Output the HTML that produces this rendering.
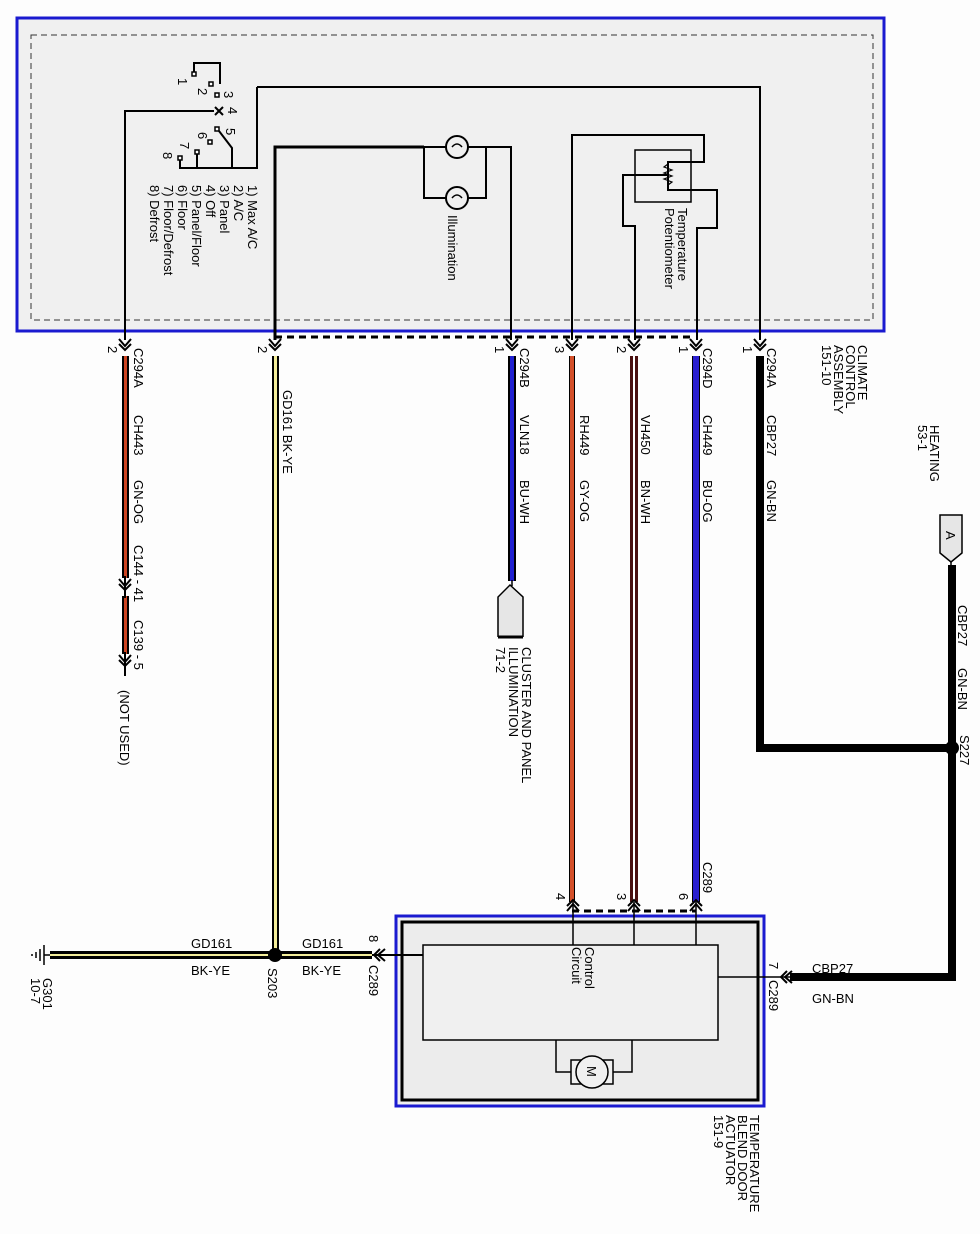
<!DOCTYPE html>
<html><head><meta charset="utf-8"><style>
html,body{margin:0;padding:0;background:#fff}
svg{display:block}
text{font-family:"Liberation Sans",Arial,sans-serif;font-size:13px;fill:#000}
</style></head><body>
<svg width="980" height="1234" viewBox="0 0 980 1234" xmlns="http://www.w3.org/2000/svg">
<defs>
<g id="arr"><path d="M-6,-7 L0,0 L6,-7 M-6,-2 L0,4 L6,-2" fill="none" stroke="#000" stroke-width="2"/></g>
</defs>
<rect x="0" y="0" width="980" height="1234" fill="#fdfdfd"/>
<!-- top assembly -->
<rect x="17" y="18" width="867" height="313" fill="#f0f0f0" stroke="#1a1ad0" stroke-width="3"/>
<rect x="31" y="35" width="842" height="285" fill="none" stroke="#333" stroke-width="1" stroke-dasharray="6,4"/>

<!-- switch -->
<g fill="none" stroke="#000" stroke-width="2">
<path d="M194,74 V63 H220 V84"/>
<path d="M125,340 V111 H214"/>
<path d="M257,87 V168 H180 V160 M197,168 V153 M232,168 V148 L219,131"/>
<path d="M257,87 H760 V340"/>
</g>
<g fill="#fff" stroke="#000" stroke-width="1.5">
<rect x="192" y="72" width="4" height="4"/><rect x="209" y="82" width="4" height="4"/>
<rect x="215" y="93" width="4" height="4"/><rect x="215" y="127" width="4" height="4"/>
<rect x="208" y="140" width="4" height="4"/><rect x="195" y="150" width="4" height="4"/>
<rect x="178" y="156" width="4" height="4"/>
</g>
<path d="M215,107 L223,115 M223,107 L215,115" stroke="#000" stroke-width="2"/>
<g>
<text transform="translate(178,78) rotate(90)">1</text>
<text transform="translate(198,88) rotate(90)">2</text>
<text transform="translate(224,91) rotate(90)">3</text>
<text transform="translate(228,107) rotate(90)">4</text>
<text transform="translate(226,128) rotate(90)">5</text>
<text transform="translate(198,132) rotate(90)">6</text>
<text transform="translate(180,142) rotate(90)">7</text>
<text transform="translate(163,152) rotate(90)">8</text>
</g>
<g font-size="12.5">
<text transform="translate(248,185) rotate(90)">1) Max A/C</text>
<text transform="translate(234,185) rotate(90)">2) A/C</text>
<text transform="translate(220,185) rotate(90)">3) Panel</text>
<text transform="translate(206,185) rotate(90)">4) Off</text>
<text transform="translate(192,185) rotate(90)">5) Panel/Floor</text>
<text transform="translate(178,185) rotate(90)">6) Floor</text>
<text transform="translate(164,185) rotate(90)">7) Floor/Defrost</text>
<text transform="translate(150,185) rotate(90)">8) Defrost</text>
</g>

<!-- illumination -->
<g fill="none" stroke="#000" stroke-width="2">
<path d="M275,340 V147 H424" stroke-width="3"/>
<path d="M424,147 H511 V340 M424,147 V198 H486 V147"/>
</g>
<g fill="#f0f0f0" stroke="#000" stroke-width="2">
<circle cx="457" cy="147" r="11"/><circle cx="457" cy="198" r="11"/>
</g>
<path d="M452,147 q5,-6 10,0 M452,198 q5,-6 10,0" stroke="#000" fill="none" stroke-width="1.5"/>
<text transform="translate(448,215) rotate(90)">Illumination</text>

<!-- potentiometer -->
<g fill="none" stroke="#000" stroke-width="2">
<path d="M572,340 V135 H704 V162 H668 V190 H717 V228 H697 V340"/>
<path d="M668,175 H623 V226 H635 V340"/>
<rect x="635" y="150" width="56" height="52" stroke-width="1.5"/>
</g>
<path d="M668,164 l-4,3 l8,3 l-8,3 l8,3 l-8,3 l8,3 l-4,3" stroke="#000" fill="none" stroke-width="1.2"/>
<text transform="translate(678,208) rotate(90)">Temperature</text>
<text transform="translate(665,208) rotate(90)">Potentiometer</text>

<!-- dashed connector line -->
<path d="M275,337 H695" stroke="#000" stroke-width="3" stroke-dasharray="7,5"/>

<!-- wires down -->
<g>
<rect x="122" y="356" width="7" height="222" fill="#000"/><rect x="124" y="356" width="3" height="222" fill="#cc4422"/>
<rect x="122" y="596" width="7" height="58" fill="#000"/><rect x="124" y="596" width="3" height="58" fill="#cc4422"/>
<rect x="272" y="356" width="7" height="600" fill="#000"/><rect x="274" y="356" width="3" height="600" fill="#f4ee9a"/>
<rect x="508" y="356" width="8" height="225" fill="#000"/><rect x="510" y="356" width="4" height="225" fill="#2020d0"/>
<rect x="569" y="356" width="6" height="546" fill="#000"/><rect x="570" y="356" width="4" height="546" fill="#d4502a"/>
<rect x="630" y="356" width="8" height="546" fill="#4a1010"/><rect x="633" y="356" width="2" height="546" fill="#fff"/>
<rect x="692" y="356" width="8" height="546" fill="#000"/><rect x="693" y="356" width="6" height="546" fill="#2a1fd0"/>
</g>
<path d="M760,356 V748 H952 M952,565 V977 H790" stroke="#000" stroke-width="8" fill="none"/>
<circle cx="952" cy="748" r="7" fill="#000"/>
<line x1="512" y1="580" x2="512" y2="586" stroke="#000" stroke-width="1.5"/>

<!-- top connector arrows -->
<g>
<use href="#arr" x="125" y="346"/><use href="#arr" x="275" y="346"/><use href="#arr" x="512" y="346"/>
<use href="#arr" x="572" y="346"/><use href="#arr" x="634" y="346"/><use href="#arr" x="696" y="346"/>
<use href="#arr" x="760" y="346"/>
<use href="#arr" x="125" y="586"/><use href="#arr" x="125" y="662"/>
</g>
<line x1="125" y1="576" x2="125" y2="598" stroke="#000" stroke-width="2"/>
<line x1="125" y1="652" x2="125" y2="676" stroke="#000" stroke-width="2"/>

<!-- pin numbers -->
<g>
<text transform="translate(108,346) rotate(90)">2</text>
<text transform="translate(258,346) rotate(90)">2</text>
<text transform="translate(495,346) rotate(90)">1</text>
<text transform="translate(555,346) rotate(90)">3</text>
<text transform="translate(617,346) rotate(90)">2</text>
<text transform="translate(679,346) rotate(90)">1</text>
<text transform="translate(743,346) rotate(90)">1</text>
</g>

<!-- wire labels -->
<g>
<text transform="translate(134,348) rotate(90)">C294A</text>
<text transform="translate(134,415) rotate(90)">CH443</text>
<text transform="translate(134,480) rotate(90)">GN-OG</text>
<text transform="translate(134,545) rotate(90)">C144 - 41</text>
<text transform="translate(134,620) rotate(90)">C139 - 5</text>
<text transform="translate(120,690) rotate(90)">(NOT USED)</text>
<text transform="translate(283,390) rotate(90)">GD161  BK-YE</text>
<text transform="translate(520,348) rotate(90)">C294B</text>
<text transform="translate(520,415) rotate(90)">VLN18</text>
<text transform="translate(520,480) rotate(90)">BU-WH</text>
<text transform="translate(580,415) rotate(90)">RH449</text>
<text transform="translate(580,480) rotate(90)">GY-OG</text>
<text transform="translate(641,415) rotate(90)">VH450</text>
<text transform="translate(641,480) rotate(90)">BN-WH</text>
<text transform="translate(703,348) rotate(90)">C294D</text>
<text transform="translate(703,415) rotate(90)">CH449</text>
<text transform="translate(703,480) rotate(90)">BU-OG</text>
<text transform="translate(767,348) rotate(90)">C294A</text>
<text transform="translate(767,415) rotate(90)">CBP27</text>
<text transform="translate(767,480) rotate(90)">GN-BN</text>
<text transform="translate(858,345) rotate(90)">CLIMATE</text>
<text transform="translate(846,345) rotate(90)">CONTROL</text>
<text transform="translate(834,345) rotate(90)">ASSEMBLY</text>
<text transform="translate(822,345) rotate(90)">151-10</text>
<text transform="translate(930,425) rotate(90)">HEATING</text>
<text transform="translate(918,425) rotate(90)">53-1</text>
<text transform="translate(958,605) rotate(90)">CBP27</text>
<text transform="translate(958,668) rotate(90)">GN-BN</text>
<text transform="translate(960,735) rotate(90)">S227</text>
</g>

<!-- cluster connector -->
<path d="M498,637 V597 L510,585 L523,597 V637" fill="#e6e6e6" stroke="#000" stroke-width="1.5"/>
<line x1="498" y1="637" x2="523" y2="637" stroke="#000" stroke-width="3"/>
<text transform="translate(522,647) rotate(90)">CLUSTER AND PANEL</text>
<text transform="translate(509,647) rotate(90)">ILLUMINATION</text>
<text transform="translate(496,647) rotate(90)">71-2</text>

<!-- Heating A connector -->
<path d="M940,515 H962 V553 L951,562 L940,553 Z" fill="#e6e6e6" stroke="#000" stroke-width="1.5"/>
<line x1="951" y1="562" x2="951" y2="568" stroke="#000" stroke-width="1.5"/>
<text transform="translate(946,531) rotate(90)">A</text>

<!-- actuator -->
<rect x="396" y="916" width="368" height="190" fill="#f0f0f0" stroke="#1a1ad0" stroke-width="3"/>
<rect x="402" y="922" width="356" height="178" fill="#ececec" stroke="#000" stroke-width="3"/>
<path d="M572,911 H696" stroke="#000" stroke-width="3" stroke-dasharray="7,5"/>
<g stroke="#000" stroke-width="1.5" fill="none">
<path d="M573,902 V945 M634,902 V945 M696,902 V945"/>
<rect x="423" y="945" width="295" height="95" fill="#f0f0f0"/>
<path d="M556,1040 V1072 H572 M632,1040 V1072 H612"/>
<rect x="571" y="1060" width="12" height="24" fill="#f0f0f0"/>
<rect x="601" y="1060" width="12" height="24" fill="#f0f0f0"/>
<circle cx="592" cy="1072" r="16" fill="#f0f0f0"/>
<path d="M718,977 H790"/>
</g>
<text transform="translate(587,1066) rotate(90)" font-size="12">M</text>
<text transform="translate(585,947) rotate(90)">Control</text>
<text transform="translate(572,947) rotate(90)">Circuit</text>
<g>
<use href="#arr" x="573" y="904" transform="rotate(180 573 904)"/>
<use href="#arr" x="634" y="904" transform="rotate(180 634 904)"/>
<use href="#arr" x="696" y="904" transform="rotate(180 696 904)"/>
</g>
<text transform="translate(556,893) rotate(90)">4</text>
<text transform="translate(617,893) rotate(90)">3</text>
<text transform="translate(679,893) rotate(90)">6</text>
<text transform="translate(703,862) rotate(90)">C289</text>
<use href="#arr" x="785" y="977" transform="rotate(90 785 977)"/>
<text transform="translate(769,962) rotate(90)">7</text>
<text transform="translate(769,980) rotate(90)">C289</text>
<text x="812" y="973">CBP27</text>
<text x="812" y="1003">GN-BN</text>
<text transform="translate(750,1115) rotate(90)">TEMPERATURE</text>
<text transform="translate(738,1115) rotate(90)">BLEND DOOR</text>
<text transform="translate(726,1115) rotate(90)">ACTUATOR</text>
<text transform="translate(714,1115) rotate(90)">151-9</text>

<!-- ground wire -->
<rect x="50" y="951" width="322" height="8" fill="#000"/><rect x="50" y="954" width="322" height="2" fill="#f4ee9a"/>
<path d="M372,955 H423" stroke="#000" stroke-width="2"/>
<use href="#arr" x="378" y="955" transform="rotate(90 378 955)"/>
<circle cx="275" cy="955" r="7" fill="#000"/>
<path d="M44,945 V965 M40,949 V961 M36,952 V958 M32,954 V956 M44,955 H50" stroke="#000" stroke-width="1.5"/>
<text x="191" y="948">GD161</text><text x="191" y="975">BK-YE</text>
<text x="302" y="948">GD161</text><text x="302" y="975">BK-YE</text>
<text transform="translate(268,968) rotate(90)">S203</text>
<text transform="translate(369,935) rotate(90)">8</text>
<text transform="translate(369,965) rotate(90)">C289</text>
<text transform="translate(43,978) rotate(90)">G301</text>
<text transform="translate(31,978) rotate(90)">10-7</text>
</svg>
</body></html>
